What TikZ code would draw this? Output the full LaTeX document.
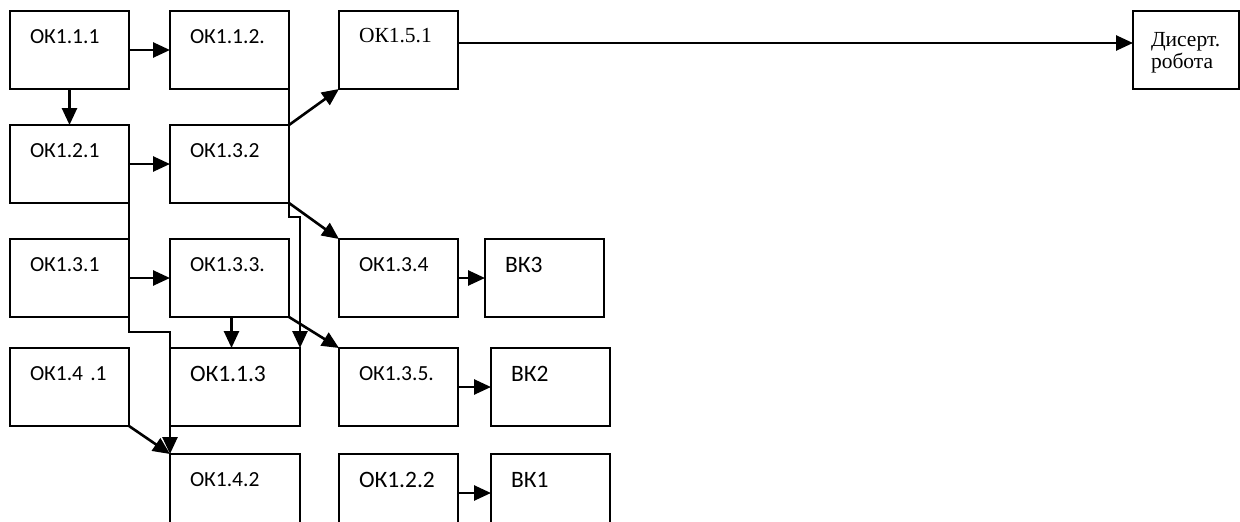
\documentclass[tikz,border=0pt]{standalone}
\usepackage{fontspec}
\setmainfont{Carlito}
\newfontfamily\timesfont{Liberation Serif}
\usepackage{tikz}
\usetikzlibrary{arrows.meta, positioning}

\begin{document}
\begin{tikzpicture}[
            x=1pt, y=1pt,
            node distance=36pt,
            box/.style={rectangle, draw, line width=1.6pt, outer sep=0pt, text width=79pt, inner xsep=20pt, inner ysep=10pt, align=left, text height=22pt, text depth=36pt, font=\fontsize{21.5pt}{22pt}\selectfont},
            bigbox/.style={box, text height=23.5pt, text depth=34.5pt, font=\fontsize{23.5pt}{24pt}\selectfont},
            arrow/.style={->, >={Triangle[length=17pt, width=15pt]}, line width=2.6pt}
        ]
            \clip (0,0) rectangle (1240,-522);

            \node[box, anchor=north west] (o111) at (10,-11) {ОК1.1.1};
            \node[box, right=41pt of o111] (o112) {ОК1.1.2.};
            \node[box, right=50pt of o112, font=\timesfont\fontsize{21.5pt}{22pt}\selectfont, text height=21pt, text depth=37pt] (o151) {ОК1.5.1};
            \node[box, right=675pt of o151, text width=70pt, inner xsep=18pt, text height=25pt, text depth=33pt, font=\timesfont\fontsize{21.5pt}{22.5pt}\selectfont] (dis) {Дисерт.\\робота};

            \node[box, below=of o111] (o121) {ОК1.2.1};
            \node[box, right=41pt of o121] (o132) {ОК1.3.2};

            \node[box, below=of o121] (o131) {ОК1.3.1};
            \node[box, right=41pt of o131] (o133) {ОК1.3.3.};
            \node[box, right=50pt of o133] (o134) {ОК1.3.4};
            \node[bigbox, right=27pt of o134] (vk3) {ВК3};

            \node[box, below=31pt of o131] (o141) {ОК1.4 .1};
            \node[bigbox, below=31pt of o133.south west, anchor=north west, text width=90pt] (o113) {ОК1.1.3};
            \node[box, below=31pt of o134] (o135) {ОК1.3.5.};
            \node[bigbox, right=33pt of o135] (vk2) {ВК2};

            \node[box, below=28pt of o113.south west, anchor=north west, text width=90pt] (o142) {ОК1.4.2};
            \node[bigbox, below=28pt of o135] (o122) {ОК1.2.2};
            \node[bigbox, right=33pt of o122] (vk1) {ВК1};

            \draw[arrow] (o111) -- (o112);
            \draw[arrow] (o111) -- (o121);
            \draw[arrow] (o121) -- (o132);
            \draw[arrow] (o131) -- (o133);
            \draw[arrow] (o134) -- (vk3);
            \draw[arrow] (o135) -- (vk2);
            \draw[arrow] (o122) -- (vk1);
            \draw[arrow] ([yshift=7pt]o151.east) -- ([yshift=7pt]o151.east -| dis.west);
            \draw[arrow] (o132.north east) -- (o151.south west);
            \draw[arrow] (o132.south east) -- (o134.north west);
            \draw[arrow] (o133.south east) -- (o135.north west);
            \draw[arrow] (o141.south east) -- (o142.north west);
            \draw[arrow] ([xshift=2pt]o133.south) -- ([xshift=2pt]o133.south |- o113.north);
            \draw[arrow] (o112.south east) -- ([yshift=-14pt]o132.south east) -| (o113.north east);
            \draw[arrow] (o121.south east) -- ([yshift=-15pt]o131.south east) -| (o142.north west);
        \end{tikzpicture}
\end{document}
